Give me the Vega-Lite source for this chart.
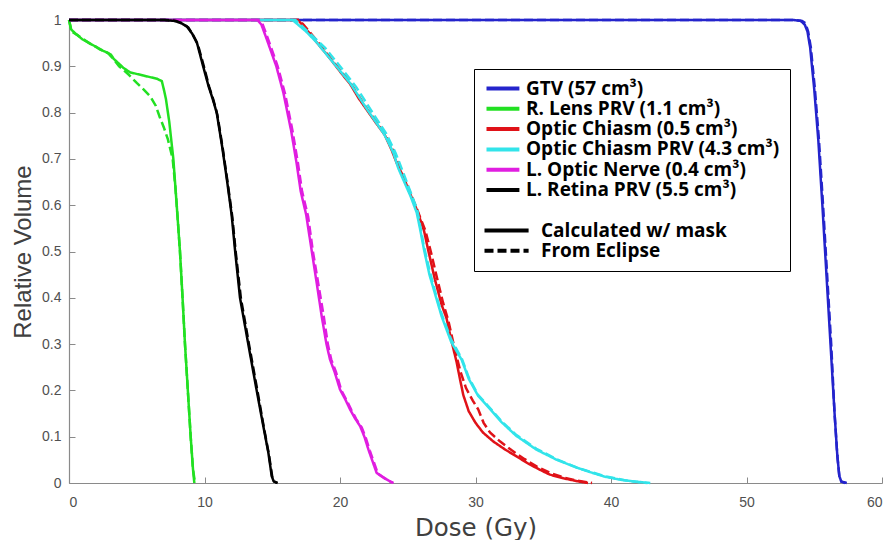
{
  "$schema": "https://vega.github.io/schema/vega-lite/v6.json",
  "width": 813,
  "height": 463,
  "autosize": {"type": "none"},
  "padding": {"left": 69, "top": 20, "right": 7, "bottom": 57},
  "background": "white",
  "config": {
    "view": {"stroke": null},
    "axis": {
      "grid": false,
      "domainColor": "#8a8a8a",
      "domainWidth": 1.2,
      "tickColor": "#8a8a8a",
      "tickSize": -6,
      "labelFont": "Liberation Sans",
      "labelFontSize": 14,
      "labelColor": "#505050",
      "titleFont": "Liberation Sans",
      "titleFontSize": 24,
      "titleFontWeight": "normal",
      "titleColor": "#404040"
    },
    "legend": {
      "labelFont": "Open Sans",
      "labelFontWeight": "bold",
      "labelFontSize": 19,
      "labelColor": "black",
      "labelLimit": 400,
      "symbolStrokeWidth": 4,
      "symbolSize": 196,
      "rowPadding": 0.3
    }
  },
  "data": {
    "values": [
      {"s":"GTV","k":"c","d":0,"v":1},{"s":"GTV","k":"c","d":53.5,"v":1},{"s":"GTV","k":"c","d":54.0,"v":0.998},{"s":"GTV","k":"c","d":54.3,"v":0.99},{"s":"GTV","k":"c","d":54.5,"v":0.975},{"s":"GTV","k":"c","d":54.7,"v":0.94},{"s":"GTV","k":"c","d":55.0,"v":0.85},{"s":"GTV","k":"c","d":55.3,"v":0.74},{"s":"GTV","k":"c","d":55.6,"v":0.6},{"s":"GTV","k":"c","d":55.9,"v":0.45},{"s":"GTV","k":"c","d":56.2,"v":0.3},{"s":"GTV","k":"c","d":56.5,"v":0.15},{"s":"GTV","k":"c","d":56.7,"v":0.06},{"s":"GTV","k":"c","d":56.85,"v":0.015},{"s":"GTV","k":"c","d":57.0,"v":0.003},{"s":"GTV","k":"c","d":57.4,"v":0},
      {"s":"GTV","k":"e","d":0,"v":1},{"s":"GTV","k":"e","d":53.6,"v":1},{"s":"GTV","k":"e","d":54.1,"v":0.998},{"s":"GTV","k":"e","d":54.35,"v":0.993},{"s":"GTV","k":"e","d":54.55,"v":0.975},{"s":"GTV","k":"e","d":54.75,"v":0.94},{"s":"GTV","k":"e","d":55.05,"v":0.85},{"s":"GTV","k":"e","d":55.35,"v":0.74},{"s":"GTV","k":"e","d":55.65,"v":0.6},{"s":"GTV","k":"e","d":55.95,"v":0.45},{"s":"GTV","k":"e","d":56.25,"v":0.3},{"s":"GTV","k":"e","d":56.5,"v":0.15},{"s":"GTV","k":"e","d":56.7,"v":0.06},{"s":"GTV","k":"e","d":56.85,"v":0.015},{"s":"GTV","k":"e","d":57.0,"v":0.003},{"s":"GTV","k":"e","d":57.3,"v":0},
      {"s":"RL","k":"c","d":0,"v":1},{"s":"RL","k":"c","d":0.15,"v":0.98},{"s":"RL","k":"c","d":0.5,"v":0.97},{"s":"RL","k":"c","d":1.0,"v":0.958},{"s":"RL","k":"c","d":1.5,"v":0.95},{"s":"RL","k":"c","d":2.0,"v":0.942},{"s":"RL","k":"c","d":2.3,"v":0.936},{"s":"RL","k":"c","d":2.8,"v":0.93},{"s":"RL","k":"c","d":3.1,"v":0.925},{"s":"RL","k":"c","d":3.3,"v":0.916},{"s":"RL","k":"c","d":3.6,"v":0.908},{"s":"RL","k":"c","d":4.0,"v":0.897},{"s":"RL","k":"c","d":4.5,"v":0.887},{"s":"RL","k":"c","d":5.5,"v":0.88},{"s":"RL","k":"c","d":6.5,"v":0.873},{"s":"RL","k":"c","d":6.85,"v":0.868},{"s":"RL","k":"c","d":7.0,"v":0.85},{"s":"RL","k":"c","d":7.15,"v":0.83},{"s":"RL","k":"c","d":7.4,"v":0.78},{"s":"RL","k":"c","d":7.7,"v":0.7},{"s":"RL","k":"c","d":7.95,"v":0.6},{"s":"RL","k":"c","d":8.19,"v":0.5},{"s":"RL","k":"c","d":8.38,"v":0.4},{"s":"RL","k":"c","d":8.56,"v":0.3},{"s":"RL","k":"c","d":8.77,"v":0.2},{"s":"RL","k":"c","d":8.98,"v":0.1},{"s":"RL","k":"c","d":9.15,"v":0.03},{"s":"RL","k":"c","d":9.25,"v":0},
      {"s":"RL","k":"e","d":0,"v":1},{"s":"RL","k":"e","d":0.2,"v":0.975},{"s":"RL","k":"e","d":0.6,"v":0.968},{"s":"RL","k":"e","d":1.0,"v":0.96},{"s":"RL","k":"e","d":1.6,"v":0.948},{"s":"RL","k":"e","d":2.3,"v":0.937},{"s":"RL","k":"e","d":2.9,"v":0.928},{"s":"RL","k":"e","d":3.3,"v":0.915},{"s":"RL","k":"e","d":3.7,"v":0.9},{"s":"RL","k":"e","d":4.0,"v":0.893},{"s":"RL","k":"e","d":4.4,"v":0.882},{"s":"RL","k":"e","d":5.0,"v":0.864},{"s":"RL","k":"e","d":5.5,"v":0.85},{"s":"RL","k":"e","d":6.0,"v":0.835},{"s":"RL","k":"e","d":6.4,"v":0.815},{"s":"RL","k":"e","d":6.7,"v":0.79},{"s":"RL","k":"e","d":7.0,"v":0.768},{"s":"RL","k":"e","d":7.3,"v":0.742},{"s":"RL","k":"e","d":7.65,"v":0.7},{"s":"RL","k":"e","d":7.85,"v":0.64},{"s":"RL","k":"e","d":8.0,"v":0.58},{"s":"RL","k":"e","d":8.19,"v":0.5},{"s":"RL","k":"e","d":8.38,"v":0.4},{"s":"RL","k":"e","d":8.56,"v":0.3},{"s":"RL","k":"e","d":8.77,"v":0.2},{"s":"RL","k":"e","d":8.98,"v":0.1},{"s":"RL","k":"e","d":9.15,"v":0.03},{"s":"RL","k":"e","d":9.3,"v":0},
      {"s":"OC","k":"c","d":0,"v":1},{"s":"OC","k":"c","d":16.9,"v":1},{"s":"OC","k":"c","d":17.2,"v":0.99},{"s":"OC","k":"c","d":17.8,"v":0.97},{"s":"OC","k":"c","d":18.3,"v":0.951},{"s":"OC","k":"c","d":18.9,"v":0.93},{"s":"OC","k":"c","d":19.5,"v":0.908},{"s":"OC","k":"c","d":20.1,"v":0.885},{"s":"OC","k":"c","d":20.74,"v":0.862},{"s":"OC","k":"c","d":21.4,"v":0.83},{"s":"OC","k":"c","d":22.0,"v":0.805},{"s":"OC","k":"c","d":22.6,"v":0.78},{"s":"OC","k":"c","d":23.3,"v":0.752},{"s":"OC","k":"c","d":23.8,"v":0.72},{"s":"OC","k":"c","d":24.2,"v":0.69},{"s":"OC","k":"c","d":24.7,"v":0.66},{"s":"OC","k":"c","d":25.1,"v":0.63},{"s":"OC","k":"c","d":25.7,"v":0.588},{"s":"OC","k":"c","d":26.2,"v":0.545},{"s":"OC","k":"c","d":26.5,"v":0.504},{"s":"OC","k":"c","d":27.0,"v":0.44},{"s":"OC","k":"c","d":27.5,"v":0.385},{"s":"OC","k":"c","d":27.87,"v":0.355},{"s":"OC","k":"c","d":28.2,"v":0.31},{"s":"OC","k":"c","d":28.6,"v":0.262},{"s":"OC","k":"c","d":28.85,"v":0.225},{"s":"OC","k":"c","d":29.1,"v":0.19},{"s":"OC","k":"c","d":29.5,"v":0.155},{"s":"OC","k":"c","d":30.0,"v":0.13},{"s":"OC","k":"c","d":30.55,"v":0.109},{"s":"OC","k":"c","d":31.3,"v":0.09},{"s":"OC","k":"c","d":32.2,"v":0.072},{"s":"OC","k":"c","d":33.0,"v":0.058},{"s":"OC","k":"c","d":34.0,"v":0.04},{"s":"OC","k":"c","d":35.0,"v":0.025},{"s":"OC","k":"c","d":35.5,"v":0.018},{"s":"OC","k":"c","d":36.5,"v":0.01},{"s":"OC","k":"c","d":37.5,"v":0.004},{"s":"OC","k":"c","d":38.3,"v":0},
      {"s":"OC","k":"e","d":0,"v":1},{"s":"OC","k":"e","d":17.0,"v":1},{"s":"OC","k":"e","d":17.3,"v":0.99},{"s":"OC","k":"e","d":18.3,"v":0.955},{"s":"OC","k":"e","d":19.5,"v":0.91},{"s":"OC","k":"e","d":20.74,"v":0.865},{"s":"OC","k":"e","d":22.0,"v":0.808},{"s":"OC","k":"e","d":23.3,"v":0.755},{"s":"OC","k":"e","d":24.0,"v":0.715},{"s":"OC","k":"e","d":24.4,"v":0.68},{"s":"OC","k":"e","d":25.0,"v":0.64},{"s":"OC","k":"e","d":25.7,"v":0.59},{"s":"OC","k":"e","d":26.3,"v":0.545},{"s":"OC","k":"e","d":26.7,"v":0.5},{"s":"OC","k":"e","d":27.1,"v":0.45},{"s":"OC","k":"e","d":27.6,"v":0.39},{"s":"OC","k":"e","d":28.0,"v":0.35},{"s":"OC","k":"e","d":28.5,"v":0.285},{"s":"OC","k":"e","d":28.9,"v":0.24},{"s":"OC","k":"e","d":29.3,"v":0.205},{"s":"OC","k":"e","d":29.8,"v":0.178},{"s":"OC","k":"e","d":30.2,"v":0.159},{"s":"OC","k":"e","d":30.6,"v":0.13},{"s":"OC","k":"e","d":31.07,"v":0.109},{"s":"OC","k":"e","d":31.8,"v":0.09},{"s":"OC","k":"e","d":32.7,"v":0.07},{"s":"OC","k":"e","d":33.6,"v":0.052},{"s":"OC","k":"e","d":34.5,"v":0.036},{"s":"OC","k":"e","d":35.5,"v":0.022},{"s":"OC","k":"e","d":36.5,"v":0.012},{"s":"OC","k":"e","d":37.5,"v":0.005},{"s":"OC","k":"e","d":38.6,"v":0},
      {"s":"OCP","k":"c","d":0,"v":1},{"s":"OCP","k":"c","d":16.5,"v":1},{"s":"OCP","k":"c","d":16.9,"v":0.99},{"s":"OCP","k":"c","d":17.5,"v":0.975},{"s":"OCP","k":"c","d":18.3,"v":0.951},{"s":"OCP","k":"c","d":19.5,"v":0.908},{"s":"OCP","k":"c","d":20.74,"v":0.864},{"s":"OCP","k":"c","d":22.0,"v":0.807},{"s":"OCP","k":"c","d":23.2,"v":0.756},{"s":"OCP","k":"c","d":23.5,"v":0.74},{"s":"OCP","k":"c","d":23.94,"v":0.713},{"s":"OCP","k":"c","d":24.3,"v":0.68},{"s":"OCP","k":"c","d":24.67,"v":0.655},{"s":"OCP","k":"c","d":25.2,"v":0.62},{"s":"OCP","k":"c","d":25.66,"v":0.584},{"s":"OCP","k":"c","d":25.9,"v":0.55},{"s":"OCP","k":"c","d":26.2,"v":0.504},{"s":"OCP","k":"c","d":26.6,"v":0.45},{"s":"OCP","k":"c","d":27.0,"v":0.41},{"s":"OCP","k":"c","d":27.5,"v":0.36},{"s":"OCP","k":"c","d":28.2,"v":0.305},{"s":"OCP","k":"c","d":28.98,"v":0.266},{"s":"OCP","k":"c","d":29.5,"v":0.225},{"s":"OCP","k":"c","d":30.2,"v":0.188},{"s":"OCP","k":"c","d":31.1,"v":0.159},{"s":"OCP","k":"c","d":31.9,"v":0.132},{"s":"OCP","k":"c","d":33.0,"v":0.102},{"s":"OCP","k":"c","d":34.5,"v":0.072},{"s":"OCP","k":"c","d":36.0,"v":0.05},{"s":"OCP","k":"c","d":37.5,"v":0.033},{"s":"OCP","k":"c","d":38.4,"v":0.024},{"s":"OCP","k":"c","d":39.5,"v":0.014},{"s":"OCP","k":"c","d":40.7,"v":0.007},{"s":"OCP","k":"c","d":41.8,"v":0.003},{"s":"OCP","k":"c","d":42.9,"v":0},
      {"s":"OCP","k":"e","d":0,"v":1},{"s":"OCP","k":"e","d":16.7,"v":1},{"s":"OCP","k":"e","d":17.1,"v":0.99},{"s":"OCP","k":"e","d":17.8,"v":0.97},{"s":"OCP","k":"e","d":18.9,"v":0.94},{"s":"OCP","k":"e","d":20.0,"v":0.9},{"s":"OCP","k":"e","d":21.2,"v":0.855},{"s":"OCP","k":"e","d":22.4,"v":0.8},{"s":"OCP","k":"e","d":23.4,"v":0.755},{"s":"OCP","k":"e","d":24.1,"v":0.713},{"s":"OCP","k":"e","d":24.8,"v":0.66},{"s":"OCP","k":"e","d":25.7,"v":0.59},{"s":"OCP","k":"e","d":26.2,"v":0.51},{"s":"OCP","k":"e","d":26.6,"v":0.46},{"s":"OCP","k":"e","d":27.0,"v":0.415},{"s":"OCP","k":"e","d":27.5,"v":0.365},{"s":"OCP","k":"e","d":28.2,"v":0.31},{"s":"OCP","k":"e","d":29.0,"v":0.268},{"s":"OCP","k":"e","d":29.5,"v":0.228},{"s":"OCP","k":"e","d":30.2,"v":0.19},{"s":"OCP","k":"e","d":31.1,"v":0.161},{"s":"OCP","k":"e","d":31.9,"v":0.134},{"s":"OCP","k":"e","d":33.0,"v":0.104},{"s":"OCP","k":"e","d":34.5,"v":0.074},{"s":"OCP","k":"e","d":36.0,"v":0.051},{"s":"OCP","k":"e","d":37.5,"v":0.033},{"s":"OCP","k":"e","d":39.5,"v":0.015},{"s":"OCP","k":"e","d":41.0,"v":0.006},{"s":"OCP","k":"e","d":42.0,"v":0.002},{"s":"OCP","k":"e","d":42.7,"v":0},
      {"s":"LON","k":"c","d":0,"v":1},{"s":"LON","k":"c","d":13.9,"v":1},{"s":"LON","k":"c","d":14.2,"v":0.99},{"s":"LON","k":"c","d":14.6,"v":0.958},{"s":"LON","k":"c","d":15.3,"v":0.9},{"s":"LON","k":"c","d":15.82,"v":0.843},{"s":"LON","k":"c","d":16.4,"v":0.76},{"s":"LON","k":"c","d":16.8,"v":0.69},{"s":"LON","k":"c","d":17.1,"v":0.63},{"s":"LON","k":"c","d":17.5,"v":0.58},{"s":"LON","k":"c","d":17.9,"v":0.504},{"s":"LON","k":"c","d":18.28,"v":0.432},{"s":"LON","k":"c","d":18.65,"v":0.36},{"s":"LON","k":"c","d":19.0,"v":0.3},{"s":"LON","k":"c","d":19.26,"v":0.267},{"s":"LON","k":"c","d":19.6,"v":0.24},{"s":"LON","k":"c","d":20.0,"v":0.202},{"s":"LON","k":"c","d":20.4,"v":0.18},{"s":"LON","k":"c","d":20.74,"v":0.159},{"s":"LON","k":"c","d":21.1,"v":0.14},{"s":"LON","k":"c","d":21.48,"v":0.123},{"s":"LON","k":"c","d":21.8,"v":0.1},{"s":"LON","k":"c","d":22.1,"v":0.072},{"s":"LON","k":"c","d":22.7,"v":0.022},{"s":"LON","k":"c","d":23.2,"v":0.012},{"s":"LON","k":"c","d":23.6,"v":0.005},{"s":"LON","k":"c","d":23.95,"v":0},
      {"s":"LON","k":"e","d":0,"v":1},{"s":"LON","k":"e","d":14.0,"v":1},{"s":"LON","k":"e","d":14.3,"v":0.99},{"s":"LON","k":"e","d":14.7,"v":0.958},{"s":"LON","k":"e","d":15.4,"v":0.9},{"s":"LON","k":"e","d":15.95,"v":0.84},{"s":"LON","k":"e","d":16.5,"v":0.76},{"s":"LON","k":"e","d":16.9,"v":0.69},{"s":"LON","k":"e","d":17.2,"v":0.63},{"s":"LON","k":"e","d":17.65,"v":0.575},{"s":"LON","k":"e","d":18.0,"v":0.5},{"s":"LON","k":"e","d":18.4,"v":0.43},{"s":"LON","k":"e","d":18.8,"v":0.36},{"s":"LON","k":"e","d":19.1,"v":0.3},{"s":"LON","k":"e","d":19.35,"v":0.267},{"s":"LON","k":"e","d":19.7,"v":0.24},{"s":"LON","k":"e","d":20.1,"v":0.2},{"s":"LON","k":"e","d":20.5,"v":0.178},{"s":"LON","k":"e","d":20.85,"v":0.157},{"s":"LON","k":"e","d":21.2,"v":0.138},{"s":"LON","k":"e","d":21.6,"v":0.12},{"s":"LON","k":"e","d":21.9,"v":0.098},{"s":"LON","k":"e","d":22.2,"v":0.07},{"s":"LON","k":"e","d":22.8,"v":0.02},{"s":"LON","k":"e","d":23.3,"v":0.01},{"s":"LON","k":"e","d":23.65,"v":0.004},{"s":"LON","k":"e","d":23.9,"v":0},
      {"s":"LR","k":"c","d":0,"v":1},{"s":"LR","k":"c","d":7.0,"v":1},{"s":"LR","k":"c","d":7.8,"v":0.998},{"s":"LR","k":"c","d":8.3,"v":0.993},{"s":"LR","k":"c","d":8.7,"v":0.986},{"s":"LR","k":"c","d":9.1,"v":0.97},{"s":"LR","k":"c","d":9.45,"v":0.95},{"s":"LR","k":"c","d":9.9,"v":0.9},{"s":"LR","k":"c","d":10.3,"v":0.857},{"s":"LR","k":"c","d":10.6,"v":0.83},{"s":"LR","k":"c","d":10.9,"v":0.8},{"s":"LR","k":"c","d":11.3,"v":0.727},{"s":"LR","k":"c","d":11.65,"v":0.656},{"s":"LR","k":"c","d":12.0,"v":0.58},{"s":"LR","k":"c","d":12.25,"v":0.504},{"s":"LR","k":"c","d":12.62,"v":0.4},{"s":"LR","k":"c","d":13.23,"v":0.3},{"s":"LR","k":"c","d":13.85,"v":0.2},{"s":"LR","k":"c","d":14.34,"v":0.123},{"s":"LR","k":"c","d":14.71,"v":0.066},{"s":"LR","k":"c","d":14.96,"v":0.015},{"s":"LR","k":"c","d":15.1,"v":0.004},{"s":"LR","k":"c","d":15.35,"v":0},
      {"s":"LR","k":"e","d":0,"v":1},{"s":"LR","k":"e","d":7.1,"v":1},{"s":"LR","k":"e","d":7.9,"v":0.998},{"s":"LR","k":"e","d":8.4,"v":0.992},{"s":"LR","k":"e","d":8.8,"v":0.984},{"s":"LR","k":"e","d":9.15,"v":0.968},{"s":"LR","k":"e","d":9.5,"v":0.948},{"s":"LR","k":"e","d":9.95,"v":0.9},{"s":"LR","k":"e","d":10.35,"v":0.855},{"s":"LR","k":"e","d":10.65,"v":0.828},{"s":"LR","k":"e","d":10.95,"v":0.795},{"s":"LR","k":"e","d":11.35,"v":0.722},{"s":"LR","k":"e","d":11.7,"v":0.65},{"s":"LR","k":"e","d":12.05,"v":0.575},{"s":"LR","k":"e","d":12.3,"v":0.5},{"s":"LR","k":"e","d":12.68,"v":0.4},{"s":"LR","k":"e","d":13.28,"v":0.3},{"s":"LR","k":"e","d":13.9,"v":0.2},{"s":"LR","k":"e","d":14.38,"v":0.12},{"s":"LR","k":"e","d":14.75,"v":0.062},{"s":"LR","k":"e","d":15.0,"v":0.013},{"s":"LR","k":"e","d":15.15,"v":0.003},{"s":"LR","k":"e","d":15.4,"v":0}
    ]
  },
  "mark": {"type": "line", "strokeWidth": 2.5, "clip": false},
  "encoding": {
    "x": {
      "field": "d", "type": "quantitative",
      "scale": {"domain": [0, 60], "nice": false, "zero": false},
      "axis": {"values": [0, 10, 20, 30, 40, 50, 60], "title": "Dose (Gy)", "titleFont": "DejaVu Sans", "titleFontSize": 24.5, "labelPadding": 18, "titlePadding": 7}
    },
    "y": {
      "field": "v", "type": "quantitative",
      "scale": {"domain": [0, 1], "nice": false},
      "axis": {"values": [0, 0.1, 0.2, 0.3, 0.4, 0.5, 0.6, 0.7, 0.8, 0.9, 1], "format": "~g", "title": "Relative Volume", "labelPadding": 14, "titlePadding": 6}
    },
    "color": {
      "field": "s", "type": "nominal",
      "scale": {
        "domain": ["GTV", "RL", "OC", "OCP", "LON", "LR", "b1", "b2", "b3"],
        "range": ["#2424cc", "#22e022", "#e01218", "#32e4ea", "#e01ee0", "#000000", "transparent", "transparent", "transparent"]
      },
      "legend": {
        "title": null,
        "orient": "none",
        "legendX": 405,
        "legendY": 49,
        "padding": 10,
        "strokeColor": "black",
        "fillColor": "white",
        "symbolType": "M-1,0H3.7",
        "labelOffset": 23,
        "labelExpr": "({'GTV':'GTV (57 cm³)','RL':'R. Lens PRV (1.1 cm³)','OC':'Optic Chiasm (0.5 cm³)','OCP':'Optic Chiasm PRV (4.3 cm³)','LON':'L. Optic Nerve (0.4 cm³)','LR':'L. Retina PRV (5.5 cm³)'})[datum.label] || ''",
        "encode": {"legend": {"strokeWidth": {"value": 3}}}
      }
    },
    "strokeDash": {
      "field": "k", "type": "nominal",
      "scale": {"domain": ["c", "e"], "range": [[1, 0], [9, 4]]},
      "legend": {
        "title": null,
        "orient": "none",
        "legendX": 413,
        "legendY": 201,
        "padding": 0,
        "symbolType": "M-1,0H5.3",
        "symbolStrokeColor": "black",
        "labelOffset": 40,
        "labelExpr": "datum.label == 'c' ? 'Calculated w/ mask' : 'From Eclipse'"
      }
    }
  }
}
